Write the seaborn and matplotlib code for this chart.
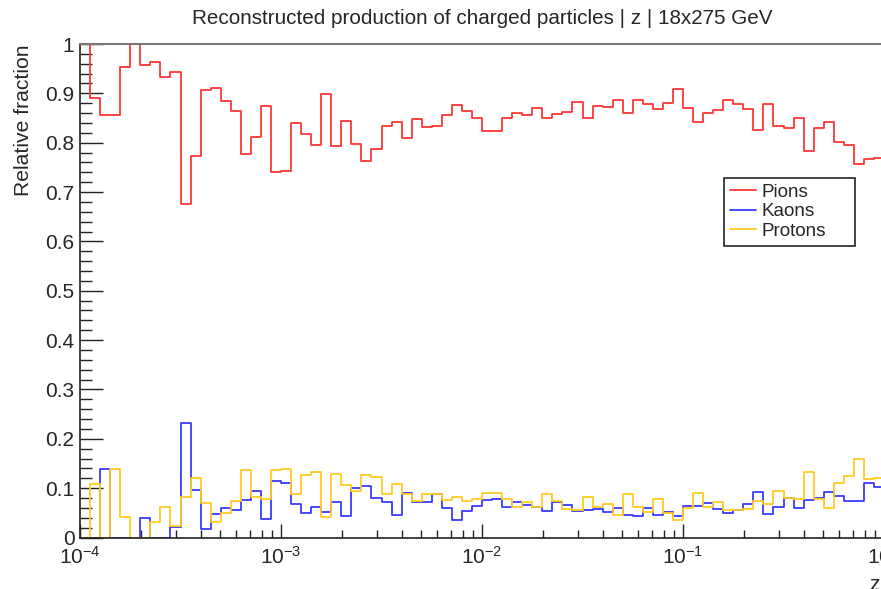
import numpy as np
import pandas as pd
import matplotlib
matplotlib.use("Agg")
import matplotlib.pyplot as plt
from matplotlib.ticker import MultipleLocator, FuncFormatter
import seaborn as sns

# 80 logarithmic bins in z, from 1e-4 to 1 (edges given as log10 z)
log_edges = np.linspace(-4, 0, 81)

pions = [1.000, 0.890, 0.857, 0.857, 0.953, 1.000, 0.958, 0.963, 0.934, 0.943,
         0.676, 0.773, 0.906, 0.911, 0.884, 0.864, 0.778, 0.812, 0.874, 0.740,
         0.743, 0.840, 0.817, 0.795, 0.899, 0.793, 0.844, 0.797, 0.763, 0.787,
         0.834, 0.842, 0.810, 0.849, 0.832, 0.834, 0.856, 0.876, 0.865, 0.850,
         0.823, 0.823, 0.851, 0.861, 0.856, 0.870, 0.850, 0.858, 0.862, 0.882,
         0.851, 0.875, 0.873, 0.887, 0.860, 0.887, 0.878, 0.868, 0.881, 0.909,
         0.870, 0.841, 0.860, 0.866, 0.887, 0.878, 0.868, 0.826, 0.879, 0.834,
         0.830, 0.851, 0.784, 0.830, 0.841, 0.802, 0.795, 0.757, 0.766, 0.769]

kaons = [0.000, 0.000, 0.138, 0.000, 0.000, 0.000, 0.039, 0.000, 0.000, 0.022,
         0.233, 0.096, 0.017, 0.047, 0.060, 0.056, 0.077, 0.094, 0.037, 0.115,
         0.110, 0.067, 0.050, 0.062, 0.052, 0.071, 0.044, 0.101, 0.104, 0.081,
         0.071, 0.046, 0.090, 0.071, 0.071, 0.088, 0.059, 0.035, 0.054, 0.064,
         0.076, 0.078, 0.062, 0.071, 0.066, 0.062, 0.054, 0.071, 0.066, 0.054,
         0.056, 0.057, 0.052, 0.059, 0.046, 0.044, 0.060, 0.046, 0.052, 0.044,
         0.063, 0.063, 0.069, 0.057, 0.049, 0.056, 0.068, 0.092, 0.047, 0.062,
         0.081, 0.060, 0.075, 0.081, 0.093, 0.084, 0.074, 0.074, 0.111, 0.102]

protons = [0.000, 0.108, 0.000, 0.138, 0.042, 0.000, 0.000, 0.032, 0.062, 0.023,
           0.083, 0.121, 0.069, 0.032, 0.049, 0.073, 0.137, 0.083, 0.078, 0.137,
           0.138, 0.088, 0.127, 0.133, 0.042, 0.129, 0.106, 0.094, 0.127, 0.123,
           0.089, 0.108, 0.089, 0.073, 0.089, 0.088, 0.076, 0.083, 0.074, 0.079,
           0.091, 0.091, 0.079, 0.061, 0.071, 0.062, 0.089, 0.073, 0.058, 0.055,
           0.083, 0.061, 0.067, 0.046, 0.089, 0.061, 0.052, 0.079, 0.050, 0.035,
           0.060, 0.091, 0.062, 0.071, 0.056, 0.056, 0.057, 0.074, 0.067, 0.095,
           0.081, 0.079, 0.132, 0.079, 0.059, 0.110, 0.125, 0.159, 0.118, 0.120]

species = ["Pions", "Kaons", "Protons"]
colors = ["#ff3636", "#3a3aff", "#ffcc22"]
title = "Reconstructed production of charged particles | z | 18x275 GeV"

sns.set_theme(style="ticks")
plt.rcParams["font.family"] = ["Liberation Sans", "DejaVu Sans"]
plt.rcParams["axes.unicode_minus"] = False

# step outlines: each bin value starts at its lower edge, last value held to the end
edges_z = 10 ** log_edges
series = {"Pions": pions, "Kaons": kaons, "Protons": protons}

fig = plt.figure(figsize=(8.81, 5.89), dpi=100)
ax = fig.add_axes([80 / 881, 51.5 / 589, 804 / 881, 493.5 / 589])
ax.set_xscale("log")

for name, col in zip(species, colors):
    vals = list(series[name])
    frame = pd.DataFrame({"z": edges_z, "fraction": vals + [vals[-1]]})
    sns.lineplot(data=frame, x="z", y="fraction", estimator=None, sort=True,
                 drawstyle="steps-post", color=col, linewidth=1.3,
                 label=name, ax=ax)

ax.set_xlim(1e-4, 1)
ax.set_ylim(0, 1)

# axis ticks drawn inside the frame
ax.yaxis.set_major_locator(MultipleLocator(0.1))
ax.yaxis.set_minor_locator(MultipleLocator(0.02))
ax.yaxis.set_major_formatter(FuncFormatter(lambda v, p: f"{v:g}"))
ax.tick_params(axis="y", which="major", direction="in", length=16.5, width=1.0,
               color="#222222", labelsize=15, pad=4)
ax.tick_params(axis="y", which="minor", direction="in", length=8.5, width=1.0,
               color="#222222")
ax.tick_params(axis="x", which="major", direction="in", length=10, width=1.0,
               color="#222222", labelsize=15, pad=6)
ax.tick_params(axis="x", which="minor", direction="in", length=5.5, width=1.0,
               color="#222222")

for side in ["left", "bottom"]:
    ax.spines[side].set_color("#222222")
    ax.spines[side].set_linewidth(1.2)
ax.spines["top"].set_visible(True)
ax.spines["top"].set_color("#777777")
ax.spines["top"].set_linewidth(1.5)
ax.spines["right"].set_visible(True)
ax.spines["right"].set_color("#777777")

ax.set_ylabel("Relative fraction", loc="top", fontsize=15.2)
ax.yaxis.set_label_coords(-0.0585, 1.0)
ax.set_xlabel("z", loc="right", fontsize=15)
ax.xaxis.set_label_coords(0.995, -0.075)

fig.text(482 / 881, 1 - 18 / 589, title, ha="center", va="center", fontsize=14.9)

leg = ax.legend(loc="upper left", bbox_to_anchor=(0.801, 0.6029, 0.163, 0.1256),
                mode="expand", frameon=True, fancybox=False, edgecolor="#222222",
                framealpha=1, fontsize=13.6, handlelength=1.4, borderpad=0.3,
                labelspacing=0.12, handletextpad=0.3, borderaxespad=0)
leg.get_frame().set_linewidth(1.2)

fig.savefig("out.png", dpi=100)
